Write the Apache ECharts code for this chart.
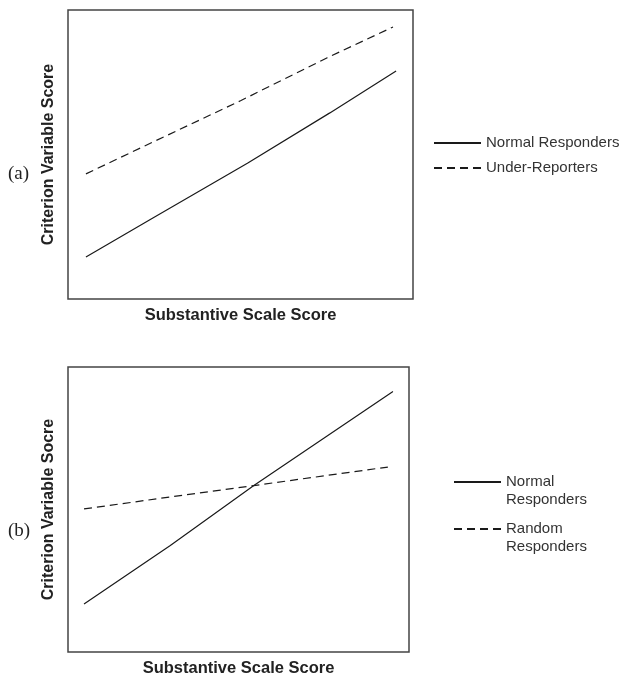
<!DOCTYPE html>
<html>
<head>
<meta charset="utf-8">
<script src="https://cdn.jsdelivr.net/npm/echarts@6/dist/echarts.min.js"></script>
<style>
    html, body { margin: 0; padding: 0; background: #fff; }
    #main { width: 631px; height: 678px; }
</style>
</head>
<body>
<div id="main"></div>
<script>
// panel (a): x on a 0-100 scale, y on a 0-100 scale
var normalA = [[5.2, 14.5], [24.6, 28.0], [52, 47], [75.9, 64.4], [95.1, 78.9]];
var underA = [[5.2, 43.3], [24.6, 54.3], [50, 68.6], [75.0, 83.4], [94.2, 94.1]];
// panel (b)
var normalB = [[4.7, 16.8], [30, 37.4], [54.5, 58.4], [95.3, 91.4]];
var randomB = [[4.7, 50.2], [30, 54.4], [54.5, 58.4], [93.8, 64.9]];

var namesA = ['Normal Responders', 'Under-Reporters'];
var namesB = ['Normal\nResponders', 'Random\nResponders'];

var chart = echarts.init(document.getElementById('main'));

function axisX(gridIndex) {
    return {
        gridIndex: gridIndex,
        type: 'value',
        min: 0,
        max: 100,
        name: 'Substantive Scale Score',
        nameLocation: 'middle',
        nameGap: 8,
        nameTextStyle: {
            fontFamily: 'Liberation Sans',
            fontWeight: 'bold',
            fontSize: 16.5,
            color: '#222'
        },
        axisLine: {show: false},
        axisTick: {show: false},
        axisLabel: {show: false},
        splitLine: {show: false}
    };
}

function axisY(gridIndex, name) {
    return {
        gridIndex: gridIndex,
        type: 'value',
        min: 0,
        max: 100,
        name: name,
        nameLocation: 'middle',
        nameGap: 11,
        nameTextStyle: {
            fontFamily: 'Liberation Sans',
            fontWeight: 'bold',
            fontSize: 16,
            color: '#222'
        },
        axisLine: {show: false},
        axisTick: {show: false},
        axisLabel: {show: false},
        splitLine: {show: false}
    };
}

function line(name, data, idx, dashed) {
    return {
        name: name,
        type: 'line',
        xAxisIndex: idx,
        yAxisIndex: idx,
        data: data,
        symbol: 'none',
        silent: true,
        lineStyle: {
            color: '#1a1a1a',
            width: 1.2,
            type: dashed ? [8, 5] : 'solid'
        },
        itemStyle: {color: '#1a1a1a'}
    };
}

var titleFont = {fontFamily: 'Liberation Serif', fontWeight: 'normal', fontSize: 19, color: '#222'};

var options = {
    animation: false,
    backgroundColor: '#fff',
    title: [
        {text: '(a)', left: 3, top: 160, textStyle: titleFont},
        {text: '(b)', left: 3, top: 517, textStyle: titleFont}
    ],
    grid: [
        {left: 68, top: 10, width: 345, height: 289, show: true, borderColor: '#444', borderWidth: 1.5},
        {left: 68, top: 367, width: 341, height: 291, show: true, borderColor: '#444', borderWidth: 1.5}
    ],
    xAxis: [axisX(0), axisX(1)],
    yAxis: [axisY(0, 'Criterion Variable Score'), axisY(1, 'Criterion Variable Socre')],
    legend: [
        {
            data: namesA,
            orient: 'vertical',
            left: 428,
            top: 130,
            itemWidth: 47,
            itemHeight: 14,
            itemGap: 9,
            selectedMode: false,
            itemStyle: {opacity: 0},
            textStyle: {fontFamily: 'Liberation Sans', fontSize: 15, color: '#333', lineHeight: 16}
        },
        {
            data: namesB,
            orient: 'vertical',
            left: 448,
            top: 450,
            itemWidth: 47,
            itemHeight: 14,
            itemGap: -7,
            selectedMode: false,
            itemStyle: {opacity: 0},
            // blank first line keeps the icon level with the first text line
            formatter: function (name) {
                return '\n' + name;
            },
            textStyle: {fontFamily: 'Liberation Sans', fontSize: 15, color: '#333', lineHeight: 18}
        }
    ],
    series: [
        line(namesA[0], normalA, 0, false),
        line(namesA[1], underA, 0, true),
        line(namesB[0], normalB, 1, false),
        line(namesB[1], randomB, 1, true)
    ]
};

chart.setOption(options);
</script>
</body>
</html>
